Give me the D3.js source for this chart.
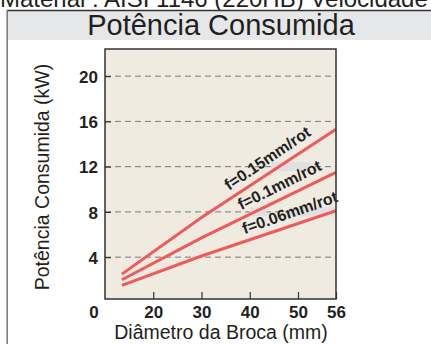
<!DOCTYPE html>
<html><head><meta charset="utf-8">
<script src="https://cdn.jsdelivr.net/npm/d3@7/dist/d3.min.js"></script>
<style>
body{margin:0;background:#fff;overflow:hidden}
svg{display:block;font-family:"Liberation Sans",Arial,sans-serif}
</style>
</head><body>
<script>
// ---- data ----
const diameters = [13.5, 30, 56];            // mm
const powerF015 = [2.5, 7.5, 15.3];          // kW, f=0.15mm/rot
const powerF010 = [2.0, 5.7, 11.5];          // kW, f=0.1mm/rot
const powerF006 = [1.5, 4.1, 8.1];           // kW, f=0.06mm/rot
const seriesNames = ["f=0.15mm/rot", "f=0.1mm/rot", "f=0.06mm/rot"];
const labelStartX = [36.4, 38.8, 39.3];      // diameter where each label starts
const xTicks = [20, 30, 40, 50, 56];
const yTicks = [4, 8, 12, 16, 20];
const originLabel = "0";
const titleText = "Potência Consumida";
const headerText = "Material : AISI 1146 (220HB) Velocidade de corte";
const xTitle = "Diâmetro da Broca (mm)";
const yTitle = "Potência Consumida (kW)";

const W = 431, H = 344;
const FONT = "Liberation Sans, Arial, sans-serif";
const svg = d3.select("body").append("svg").attr("width", W).attr("height", H);

// header (clipped at the top)
svg.append("text").attr("x", 0).attr("y", 7).attr("font-size", 24).attr("fill", "#231f20").text(headerText);

// panel
svg.append("rect").attr("x", 7).attr("y", 10.5).attr("width", W).attr("height", 29.5).attr("fill", "#e6e7e9");
svg.append("line").attr("x1", 7).attr("x2", W).attr("y1", 10.5).attr("y2", 10.5).attr("stroke", "#333").attr("stroke-width", 1.5);
svg.append("line").attr("x1", 7.2).attr("x2", 7.2).attr("y1", 10).attr("y2", H).attr("stroke", "#777").attr("stroke-width", 1.5);
svg.append("text").attr("x", 221).attr("y", 35).attr("text-anchor", "middle").attr("font-size", 29).attr("fill", "#231f20").text(titleText);

// scales
const x = d3.scaleLinear().domain([10, 50, 56]).range([105, 298, 336]);
const y = d3.scaleLinear().domain([0.3, 22.4]).range([299, 49]);
const L = x.range()[0], R = x.range()[2], T = y(22.4), B = y(0.3);

svg.append("rect").attr("x", L).attr("y", T).attr("width", R - L).attr("height", B - T).attr("fill", "#efebe1");

// grid
svg.append("g").selectAll("line").data(yTicks).join("line")
  .attr("x1", L).attr("x2", R).attr("y1", d => y(d)).attr("y2", d => y(d))
  .attr("stroke", "#7a7a7a").attr("stroke-width", 1).attr("stroke-dasharray", "6,4");

// label background patches
const patches = [[44.5, 52, 12], [40, 43.5, 8], [48, 56, 8]];
svg.append("g").selectAll("rect").data(patches).join("rect")
  .attr("x", d => x(d[0])).attr("width", d => x(d[1]) - x(d[0]))
  .attr("y", d => y(d[2]) - 4.5).attr("height", 9).attr("fill", "#dfe0e2");

// axes
const yAxis = svg.append("g").attr("transform", `translate(${L},0)`)
  .call(d3.axisLeft(y).tickValues(yTicks).tickSizeInner(-6).tickSizeOuter(0));
yAxis.select(".domain").remove();
yAxis.selectAll(".tick line").attr("stroke", "#333").attr("stroke-width", 1.2);
yAxis.selectAll(".tick text").attr("x", -7).attr("dy", "0.36em")
  .attr("font-size", 17).attr("font-weight", "bold").attr("fill", "#231f20").attr("font-family", FONT);

const xAxis = svg.append("g").attr("transform", `translate(0,${B})`)
  .call(d3.axisBottom(x).tickValues(xTicks).tickSizeInner(-7).tickSizeOuter(0));
xAxis.select(".domain").remove();
xAxis.selectAll(".tick line").attr("stroke", "#333").attr("stroke-width", 1.2);
xAxis.selectAll(".tick text").attr("y", 19).attr("dy", 0)
  .attr("font-size", 17).attr("font-weight", "bold").attr("fill", "#231f20").attr("font-family", FONT);

svg.append("text").attr("x", 94).attr("y", 318).attr("text-anchor", "middle").attr("font-size", 17).attr("font-weight", "bold").attr("fill", "#231f20").text(originLabel);

// lines
const series = [powerF015, powerF010, powerF006];
const line = d3.line().x((d, i) => x(diameters[i])).y(d => y(d));
svg.append("g").selectAll("path").data(series).join("path")
  .attr("d", d => line(d)).attr("fill", "none").attr("stroke", "#f05a5c").attr("stroke-width", 3);

// labels
series.forEach((vals, k) => {
  const n = vals.length;
  const x0 = x(diameters[0]), y0 = y(vals[0]), x1 = x(diameters[n - 1]), y1 = y(vals[n - 1]);
  const ang = Math.atan2(y1 - y0, x1 - x0) * 180 / Math.PI;
  const lx = labelStartX[k];
  const interp = d3.scaleLinear().domain(diameters).range(vals);
  svg.append("text")
    .attr("transform", `translate(${x(lx)},${y(interp(lx))}) rotate(${ang})`)
    .attr("x", 0).attr("y", -6)
    .attr("font-size", 16).attr("font-weight", "bold").attr("fill", "#231f20")
    .text(seriesNames[k]);
});

// plot frame
svg.append("rect").attr("x", L).attr("y", T).attr("width", R - L).attr("height", B - T)
  .attr("fill", "none").attr("stroke", "#333").attr("stroke-width", 1.5);

// axis titles
svg.append("text").attr("x", 221).attr("y", 339).attr("text-anchor", "middle").attr("font-size", 19.5).attr("fill", "#231f20").text(xTitle);
svg.append("text").attr("transform", "translate(49,177) rotate(-90)").attr("text-anchor", "middle").attr("font-size", 19.5).attr("fill", "#231f20").text(yTitle);
</script>
</body></html>
